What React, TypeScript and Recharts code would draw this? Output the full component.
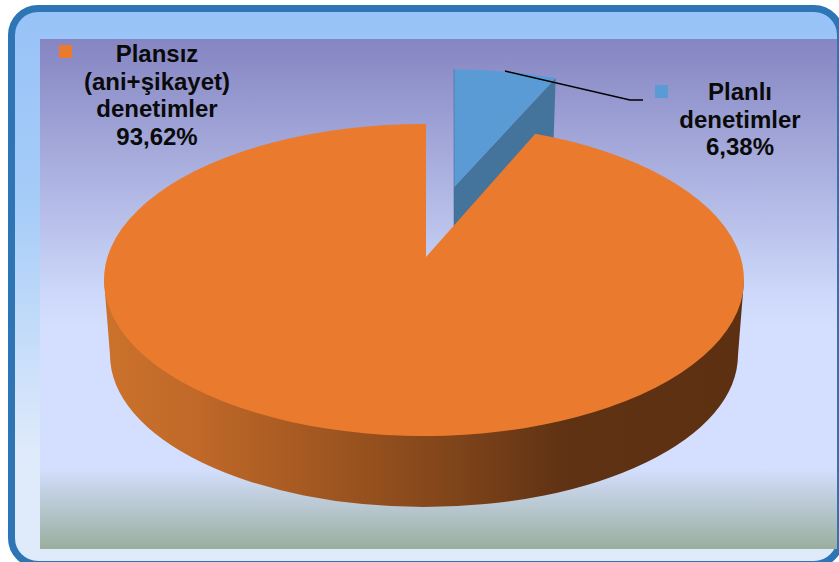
import { PieChart, Pie } from "recharts";

const categories = ["Planlı denetimler", "Plansız (ani+şikayet) denetimler"];
const values = [6.38, 93.62];
const labelLines = [["Planlı", "denetimler"], ["Plansız", "(ani+şikayet)", "denetimler"]];
const colors = ["#5b9bd5", "#ea7b2e"];

const chartData = categories.map((name, i) => ({ name, value: values[i], fill: colors[i] }));

const W = 839;
const H = 562;
const FONT = "'Liberation Sans', Arial, sans-serif";

// tilt of the pie: the apex sits above the centre of the rim ellipse
const TILT = 0.4875;
const RAY_TILT = 0.478;
const APEX_DX = 2;
const APEX_DY = -23;

// pulled-out slice
const BLUE_APEX = { dx: 30, dy: -93 };
const BLUE_SX = 0.93;
const BLUE_SY = 0.885;
const BLUE_DEPTH = 60;

const rimPoint = (cx: number, cy: number, rx: number, angle: number) => {
  const ry = rx * TILT;
  const a = (angle * Math.PI) / 180;
  const dx = Math.cos(a);
  const dy = -RAY_TILT * Math.sin(a);
  const A = (dx * dx) / (rx * rx) + (dy * dy) / (ry * ry);
  const B = (2 * APEX_DX * dx) / (rx * rx) + (2 * APEX_DY * dy) / (ry * ry);
  const C = (APEX_DX * APEX_DX) / (rx * rx) + (APEX_DY * APEX_DY) / (ry * ry) - 1;
  const s = (-B + Math.sqrt(B * B - 4 * A * C)) / (2 * A);
  return { x: cx + APEX_DX + s * dx, y: cy + APEX_DY + s * dy };
};

const PieSlice = (props: any) => {
  const { cx, cy, outerRadius: rx, startAngle, endAngle, fill, index } = props;
  const ry = rx * TILT;
  const ax = cx + APEX_DX;
  const ay = cy + APEX_DY;
  const p0 = rimPoint(cx, cy, rx, startAngle);
  const p1 = rimPoint(cx, cy, rx, endAngle);

  if (index === 0) {
    const bx = ax + BLUE_APEX.dx - 2;
    const by = ay + BLUE_APEX.dy + 23;
    const q0 = { x: bx + (p0.x - ax) * BLUE_SX, y: by + (p0.y - ay) * BLUE_SY };
    const q1 = { x: bx + (p1.x - ax) * BLUE_SX, y: by + (p1.y - ay) * BLUE_SY };
    return (
      <g>
        <path
          d={`M${bx},${by} L${q1.x},${q1.y} L${q1.x - 2},${q1.y + BLUE_DEPTH} L${bx},${by + BLUE_DEPTH} Z`}
          fill="#44739c"
        />
        <path
          d={`M${bx},${by} L${q0.x},${q0.y} A${rx * BLUE_SX},${ry * BLUE_SY} 0 0 1 ${q1.x},${q1.y} Z`}
          fill={fill}
        />
        <line x1={q0.x} y1={q0.y} x2={bx} y2={by + BLUE_DEPTH} stroke="#3f6f99" strokeWidth={0.6} />
      </g>
    );
  }

  const wallTop = cy;
  const wallBottom = cy + 75;
  const brx = rx - 6;
  const bry = 152;
  return (
    <g>
      <defs>
        <linearGradient id="wallShade" x1="0" y1="0" x2="1" y2="0">
          <stop offset="0" stopColor="#cb722c" />
          <stop offset="0.15" stopColor="#bf6828" />
          <stop offset="0.35" stopColor="#a05620" />
          <stop offset="0.55" stopColor="#7f441a" />
          <stop offset="0.72" stopColor="#5f3213" />
          <stop offset="1" stopColor="#5d3012" />
        </linearGradient>
      </defs>
      <path
        d={`M${cx + rx},${wallTop} L${cx + brx},${wallBottom} A${brx},${bry} 0 0 1 ${cx - brx},${wallBottom} L${cx - rx},${wallTop} Z`}
        fill="url(#wallShade)"
      />
      <path d={`M${ax},${ay} L${p0.x},${p0.y} A${rx},${ry} 0 1 1 ${p1.x},${p1.y} Z`} fill={fill} />
    </g>
  );
};

const labelBoxes = [
  { x: 740, y: 100, keyX: 655, keyY: 85 },
  { x: 157, y: 62, keyX: 59, keyY: 45 },
];

const renderLabel = (props: any) => {
  const { index, value, fill } = props;
  const box = labelBoxes[index];
  const lines = [...labelLines[index], `${value.toFixed(2).replace(".", ",")}%`];
  return (
    <g key={index}>
      <rect x={box.keyX} y={box.keyY} width={13} height={13} fill={fill} />
      <text x={box.x} y={box.y} textAnchor="middle" fontFamily={FONT} fontSize={24} fontWeight="bold" fill="#0a0a0a">
        {lines.map((t, i) => (
          <tspan key={t} x={box.x} dy={i === 0 ? 0 : 27.6}>
            {t}
          </tspan>
        ))}
      </text>
    </g>
  );
};

const renderLeader = (props: any) =>
  props.index === 0 ? (
    <polyline
      key="leader"
      points="505,71 630,100 643,100"
      fill="none"
      stroke="#000"
      strokeWidth={1.4}
    />
  ) : (
    <g key="no-leader" />
  );

export default function App() {
  return (
    <div style={{ position: "absolute", left: 0, top: 0, width: W, height: H, overflow: "hidden", background: "#fff" }}>
      <div
        style={{
          position: "absolute",
          left: 8,
          top: 5,
          width: 836,
          height: 563,
          boxSizing: "border-box",
          border: "7px solid #2e75b6",
          borderRadius: 30,
          background: "linear-gradient(180deg, #98c3f8 0%, #a6ccf8 35%, #dfeafb 80%, #dfeafb 100%)",
        }}
      />
      <div
        style={{
          position: "absolute",
          left: 40,
          top: 39,
          width: 797,
          height: 510,
          background: "linear-gradient(180deg, #8585c2 0%, #cdd8fa 50%, #d4dfff 56%, #d4dfff 84%, #9aae9e 100%)",
        }}
      />
      <div style={{ position: "absolute", left: 0, top: 0 }}>
        <PieChart width={W} height={H} margin={{ top: 0, right: 0, bottom: 0, left: 0 }}>
          <Pie
            data={chartData}
            dataKey="value"
            nameKey="name"
            cx={424}
            cy={280}
            innerRadius={0}
            outerRadius={320}
            startAngle={90}
            endAngle={-270}
            stroke="none"
            shape={PieSlice}
            label={renderLabel}
            labelLine={renderLeader}
            isAnimationActive={false}
          />
        </PieChart>
      </div>
    </div>
  );
}
